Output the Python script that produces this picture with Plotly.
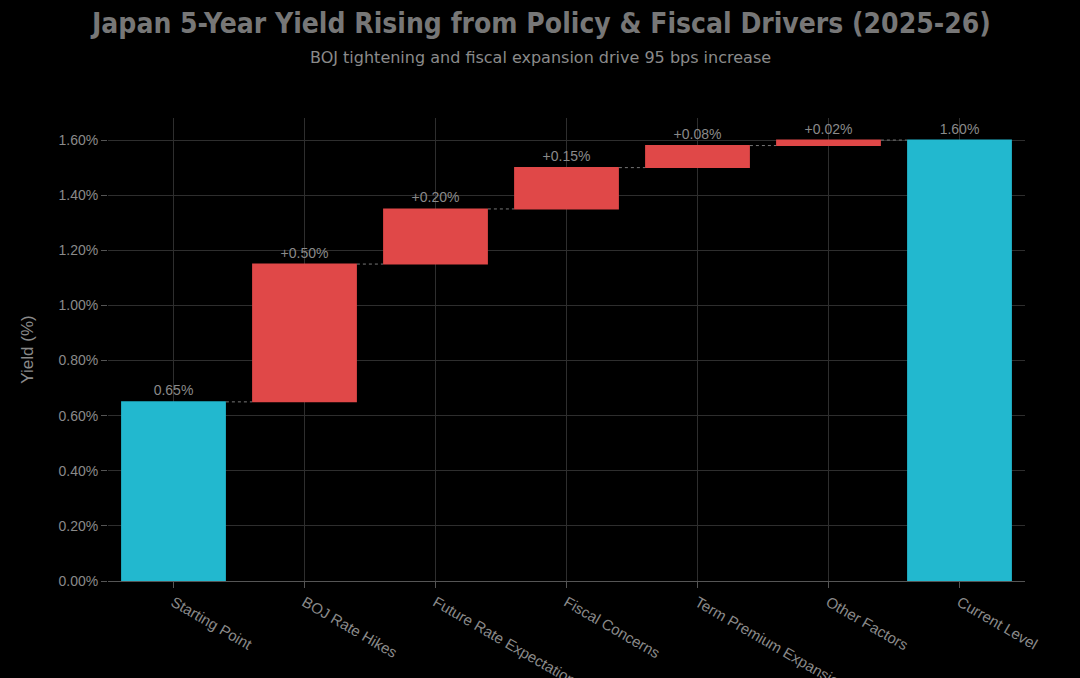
import plotly.graph_objects as go

categories = ["Starting Point", "BOJ Rate Hikes", "Future Rate Expectations", "Fiscal Concerns",
              "Term Premium Expansion", "Other Factors", "Current Level"]
values = [0.65, 0.50, 0.20, 0.15, 0.08, 0.02, 1.60]
measures = ["absolute", "relative", "relative", "relative", "relative", "relative", "total"]
labels = ["0.65%", "+0.50%", "+0.20%", "+0.15%", "+0.08%", "+0.02%", "1.60%"]

CYAN = "#22b8cf"
RED = "#e04848"
GRAY = "#8a8a8a"
TF = "Liberation Sans"

W, H = 1080, 678
ML, MR, MT, MB = 108, 55, 118, 97

fig = go.Figure(go.Waterfall(
    x=categories, y=values, measure=measures,
    text=labels, textposition="outside",
    textfont=dict(color=GRAY, size=14, family=TF),
    increasing=dict(marker=dict(color=RED)),
    decreasing=dict(marker=dict(color=RED)),
    totals=dict(marker=dict(color=CYAN)),
    connector=dict(line=dict(color="#777777", width=1, dash="dot")),
    width=0.8,
    cliponaxis=False,
))

ph = H - MT - MB
pw = W - ML - MR

def ypaper(ypx):
    return (H - MB - ypx) / ph

fig.update_layout(
    width=W, height=H,
    paper_bgcolor="black", plot_bgcolor="black",
    margin=dict(l=ML, r=MR, t=MT, b=MB, autoexpand=False),
    showlegend=False,
    font=dict(family=TF, color=GRAY, size=14),
    annotations=[
        dict(text="<b>Japan 5-Year Yield Rising from Policy &amp; Fiscal Drivers (2025-26)</b>",
             x=(540 - ML) / pw, xref="paper", y=ypaper(23), yref="paper", yanchor="middle",
             showarrow=False,
             font=dict(family="DejaVu Sans Condensed", size=28, color="#777777")),
        dict(text="BOJ tightening and fiscal expansion drive 95 bps increase",
             x=(540 - ML) / pw, xref="paper", y=ypaper(58), yref="paper", yanchor="middle",
             showarrow=False,
             font=dict(family="DejaVu Sans", size=16, color="#8a8a8a")),
    ],
)

fig.update_xaxes(
    tickangle=30, showgrid=True, gridcolor="#2e2e2e", automargin=False,
    showline=True, linecolor="#555555", ticks="outside", tickcolor="#555555", ticklen=6,
    tickfont=dict(size=15, color=GRAY, family=TF),
)
fig.update_yaxes(
    title=dict(text="Yield (%)", font=dict(size=17, color=GRAY, family=TF), standoff=20),
    range=[0, 1.68], dtick=0.2, tickformat=".2f", ticksuffix="%", automargin=False,
    showgrid=True, gridcolor="#2e2e2e", zeroline=False,
    ticks="outside", tickcolor="#555555", ticklen=6,
    tickfont=dict(size=14, color=GRAY, family=TF),
)

fig.write_html("out.html", config={"displayModeBar": False}, post_script=(
    "document.body.style.margin='0';document.body.style.background='black';"
    "document.documentElement.style.background='black';document.body.style.overflow='hidden';"))
